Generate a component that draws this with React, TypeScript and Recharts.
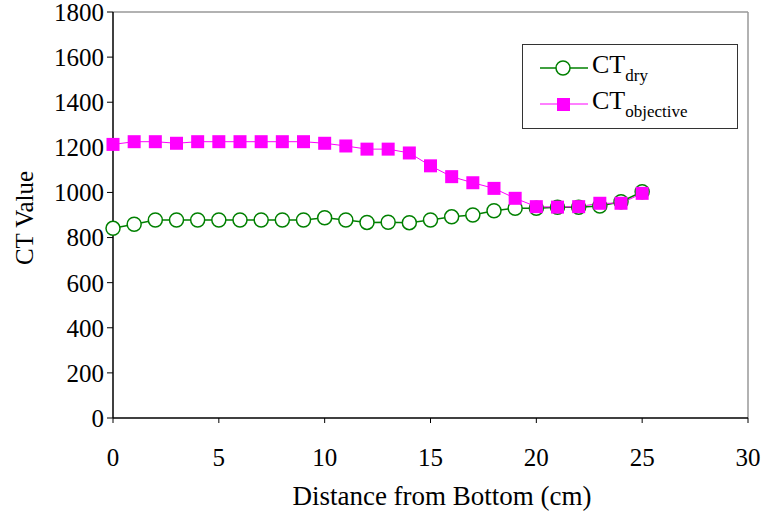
import React from "react";
import {
  LineChart,
  Line,
  XAxis,
  YAxis,
  ReferenceLine,
  Legend,
} from "recharts";

const distance = [
  0, 1, 2, 3, 4, 5, 6, 7, 8, 9, 10, 11, 12, 13, 14, 15, 16, 17, 18, 19, 20,
  21, 22, 23, 24, 25,
];
const ctDry = [
  841, 859, 878, 878, 878, 878, 878, 878, 878, 878, 888, 878, 867, 868, 866,
  878, 892, 900, 919, 930, 930, 934, 934, 940, 959, 1003,
];
const ctObjective = [
  1213, 1225, 1225, 1218, 1225, 1225, 1225, 1225, 1225, 1225, 1218, 1206, 1192,
  1192, 1175, 1118, 1070, 1043, 1018, 974, 937, 935, 937, 952, 952, 996,
];

const xTicks = [0, 5, 10, 15, 20, 25, 30];
const yTicks = [0, 200, 400, 600, 800, 1000, 1200, 1400, 1600, 1800];
const xMinorTicks = Array.from({ length: 31 }, (_, i) => i);
const yMinorTicks = Array.from({ length: 37 }, (_, i) => i * 50);

const GREEN = "#008000";
const MAGENTA = "#ff00ff";
const FONT = "'Liberation Serif', 'Times New Roman', serif";

const rows = distance.map((d, i) => ({
  distance: d,
  dry: ctDry[i],
  objective: ctObjective[i],
}));

const CircleDot = (props: any) => {
  const { cx, cy, index } = props;
  return (
    <circle
      key={`c-${index}`}
      cx={cx}
      cy={cy}
      r={7}
      fill="#fff"
      stroke={GREEN}
      strokeWidth={1.5}
    />
  );
};

const SquareDot = (props: any) => {
  const { cx, cy, index } = props;
  return (
    <rect
      key={`s-${index}`}
      x={cx - 6.5}
      y={cy - 6.5}
      width={13}
      height={13}
      fill={MAGENTA}
    />
  );
};

function LegendBox() {
  const row = (
    color: string,
    sub: string,
    marker: React.ReactNode,
    width: number
  ) => (
    <div style={{ display: "flex", alignItems: "center", height: 36 }}>
      <svg width={48} height={20} style={{ marginRight: 4 }}>
        <line x1={0} y1={10} x2={48} y2={10} stroke={color} strokeWidth={width} />
        {marker}
      </svg>
      <span style={{ fontFamily: FONT, fontSize: 26, color: "#000", lineHeight: "26px" }}>
        CT
        <sub style={{ fontSize: 17, verticalAlign: "-8px", lineHeight: "17px" }}>{sub}</sub>
      </span>
    </div>
  );
  return (
    <div
      style={{
        border: "1.5px solid #333",
        background: "#fff",
        width: 216,
        height: 85,
        boxSizing: "border-box",
        padding: "5px 0 0 17px",
      }}
    >
      {row(
        GREEN,
        "dry",
        <circle cx={23} cy={10} r={7} fill="#fff" stroke={GREEN} strokeWidth={1.5} />,
        1.5
      )}
      {row(
        MAGENTA,
        "objective",
        <rect x={17} y={4} width={13} height={13} fill={MAGENTA} />,
        1
      )}
    </div>
  );
}

export default function App() {
  return (
    <div style={{ position: "absolute", left: 0, top: 0, width: 766, height: 516 }}>
      <LineChart
        width={766}
        height={516}
        data={rows}
        margin={{ top: 12, right: 18, left: 0, bottom: 0 }}
      >
        <XAxis
          xAxisId="x"
          dataKey="distance"
          type="number"
          domain={[0, 30]}
          ticks={xTicks}
          interval={0}
          height={98}
          axisLine={{ stroke: "#000", strokeWidth: 1.5 }}
          tickLine={{ stroke: "#000" }}
          tickSize={5}
          tickMargin={25}
          tick={{ fill: "#000", fontFamily: FONT, fontSize: 25 }}
          label={{
            content: () => (
              <text
                x={442}
                y={505}
                textAnchor="middle"
                fontFamily={FONT}
                fontSize={27}
                fill="#000"
              >
                Distance from Bottom (cm)
              </text>
            ),
          }}
        />
        <XAxis
          xAxisId="xm"
          dataKey="distance"
          type="number"
          domain={[0, 30]}
          ticks={xMinorTicks}
          interval={0}
          mirror
          height={0}
          axisLine={false}
          tick={false}
          tickSize={5}
          tickLine={{ stroke: "#000" }}
        />
        <YAxis
          yAxisId="y"
          type="number"
          domain={[0, 1800]}
          ticks={yTicks}
          interval={0}
          width={113}
          axisLine={{ stroke: "#000", strokeWidth: 1.5 }}
          tickLine={{ stroke: "#000" }}
          tickSize={6}
          tickMargin={3}
          tick={{ fill: "#000", fontFamily: FONT, fontSize: 25 }}
          label={{
            content: () => (
              <text
                x={0}
                y={0}
                transform="translate(27,218) rotate(-90)"
                textAnchor="middle"
                dominantBaseline="middle"
                fontFamily={FONT}
                fontSize={25}
                fill="#000"
              >
                CT Value
              </text>
            ),
          }}
        />
        <YAxis
          yAxisId="ym"
          type="number"
          domain={[0, 1800]}
          ticks={yMinorTicks}
          interval={0}
          mirror
          width={0}
          axisLine={false}
          tick={false}
          tickSize={5}
          tickLine={{ stroke: "#000" }}
        />
        <ReferenceLine xAxisId="x" yAxisId="y" y={1800} stroke="#999" strokeWidth={1.5} />
        <ReferenceLine xAxisId="x" yAxisId="y" x={30} stroke="#999" strokeWidth={1.5} />
        <Line
          xAxisId="x"
          yAxisId="y"
          dataKey="dry"
          stroke={GREEN}
          strokeWidth={1.5}
          dot={CircleDot}
          isAnimationActive={false}
        />
        <Line
          xAxisId="x"
          yAxisId="y"
          dataKey="objective"
          stroke={MAGENTA}
          strokeWidth={1}
          dot={SquareDot}
          isAnimationActive={false}
        />
        <Legend
          layout="vertical"
          align="center"
          verticalAlign="middle"
          wrapperStyle={{ left: 522, top: 44, width: 216, height: 85 }}
          content={() => <LegendBox />}
        />
      </LineChart>
    </div>
  );
}
